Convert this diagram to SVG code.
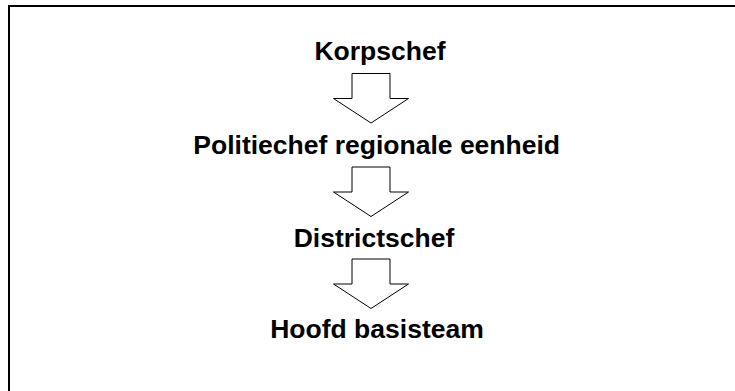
<svg xmlns="http://www.w3.org/2000/svg" width="735" height="391" viewBox="0 0 735 391">
  <style>
    .frame { fill: none; stroke: #000; stroke-width: 2; }
    .label { font-family: "Liberation Sans", Arial, sans-serif; font-weight: bold; font-size: 26.5px; fill: #000; text-anchor: middle; }
    .arrow { fill: #fff; stroke: #000; stroke-width: 1; stroke-linejoin: miter; }
  </style>
  <defs>
    <!-- hollow block arrow pointing down, origin at shaft top centre -->
    <path id="down" d="M -19 0 H 19 V 25 H 37.5 L 0 49.5 L -37.5 25 H -19 Z"/>
  </defs>
  <rect class="frame" x="9" y="6" width="740" height="400"/>
  <g id="korpschef">
    <text class="label" x="380" y="60">Korpschef</text>
  </g>
  <g id="politiechef">
    <text class="label" x="376.7" y="153.5">Politiechef regionale eenheid</text>
  </g>
  <g id="districtschef">
    <text class="label" x="374" y="246.5">Districtschef</text>
  </g>
  <g id="hoofd-basisteam">
    <text class="label" x="377" y="338">Hoofd basisteam</text>
  </g>
  <g id="connectors">
    <use href="#down" class="arrow" x="371" y="73.5"/>
    <use href="#down" class="arrow" x="371" y="167"/>
    <use href="#down" class="arrow" x="371" y="259"/>
  </g>
</svg>
